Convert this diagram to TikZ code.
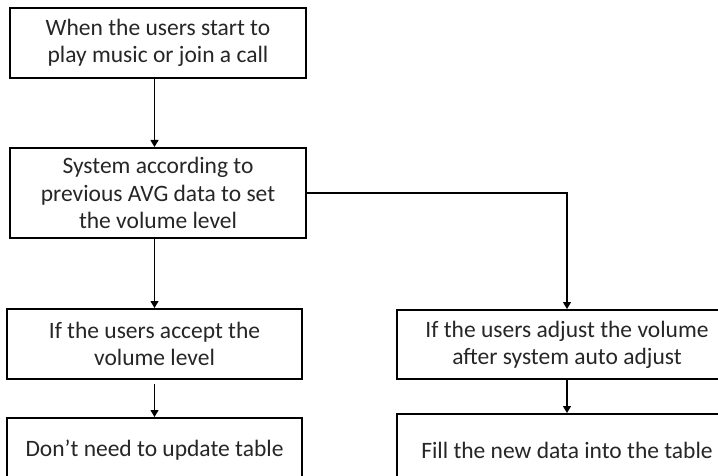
\documentclass[tikz,border=0pt]{standalone}
\usepackage{fontspec}
\setmainfont{Carlito}
\usetikzlibrary{arrows.meta}
\begin{document}
\begin{tikzpicture}[
			x=0.5pt, y=-0.5pt,
			passo/.style={draw=black, line width=1pt, fill=white, align=center,
				inner sep=0pt, text=black!85, font=\fontsize{11.75pt}{13.6pt}\selectfont},
			freccia/.style={line width=0.55pt, black,
				-{Triangle[width=4pt, length=3.5pt]}},
			]
			\useasboundingbox (0,0) rectangle (718,476);
			\clip (0,0) rectangle (718,476);
			
			%% ── colonna sinistra ───────────────────────────────
			\node[passo, minimum width=148pt, minimum height=35pt] (avvio) at (158,43)
				{When the users start to\\play music or join a call};
			\node[passo, minimum width=148pt, minimum height=45pt] (sistema) at (158,193)
				{System according to\\previous AVG data to set\\the volume level};
			\node[passo, minimum width=147.5pt, minimum height=35pt] (accetta) at (154.5,344)
				{If the users accept the\\volume level};
			\node[passo, minimum width=147.5pt, minimum height=32pt] (nessuno) at (154.5,450)
				{Don’t need to update table};
			
			%% ── colonna destra ─────────────────────────────────
			\node[passo, minimum width=170pt, minimum height=34.5pt] (regola) at (567,344.5)
				{If the users adjust the volume\\after system auto adjust};
			\node[passo, minimum width=170pt, minimum height=36pt] (riempi) at (567,450)
				{Fill the new data into the table};
			
			%% ── frecce ─────────────────────────────────────────
			\draw[freccia](avvio.south -| accetta.center)--(sistema.north -| accetta.center);
			\draw[freccia](sistema.south -| accetta.center)--(accetta.north);
			\draw[freccia, shorten <=2pt](accetta.south)--(nessuno.north);
			\draw[freccia](sistema.east)-|(regola.north);
			\draw[freccia](regola.south)--(riempi.north);
			
	\end{tikzpicture}
\end{document}
